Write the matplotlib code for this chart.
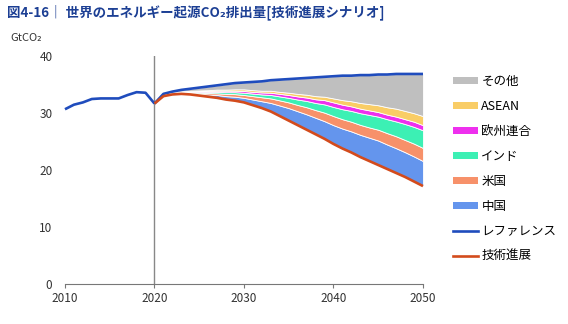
import numpy as np
import matplotlib
matplotlib.use('Agg')
import matplotlib.pyplot as plt
from matplotlib.patches import Patch
from matplotlib.lines import Line2D

plt.rcParams['font.family'] = ['Noto Sans CJK JP', 'DejaVu Sans']

# 実績 (2010-2020)
hist_years = list(range(2010, 2021))
hist = [30.7, 31.5, 31.9, 32.5, 32.6, 32.6, 32.6, 33.2, 33.7, 33.6, 31.7]

# 見通し (2020-2050)
years = list(range(2020, 2051))
reference = [31.7, 33.4, 33.8, 34.1, 34.3, 34.5, 34.7, 34.9, 35.1, 35.3,
             35.4, 35.5, 35.6, 35.8, 35.9, 36.0, 36.1, 36.2, 36.3, 36.4,
             36.5, 36.6, 36.6, 36.7, 36.7, 36.8, 36.8, 36.9, 36.9, 36.9, 36.9]
advanced = [31.7, 33.0, 33.3, 33.4, 33.3, 33.1, 32.9, 32.7, 32.4, 32.2,
            31.9, 31.4, 30.9, 30.3, 29.5, 28.7, 27.9, 27.1, 26.3, 25.5,
            24.6, 23.8, 23.1, 22.3, 21.6, 20.9, 20.2, 19.5, 18.8, 18.0, 17.2]

# 削減分 (地域別)
china = [0, 0.1, 0.1, 0.15, 0.2, 0.3, 0.4, 0.5, 0.6, 0.7,
         0.8, 1.0, 1.2, 1.5, 1.85, 2.2, 2.45, 2.7, 2.9, 3.1,
         3.3, 3.5, 3.7, 3.9, 4.1, 4.3, 4.3, 4.35, 4.35, 4.4, 4.4]
usa = [0, 0.05, 0.1, 0.1, 0.15, 0.2, 0.25, 0.3, 0.4, 0.45,
       0.5, 0.6, 0.7, 0.8, 0.9, 1.0, 1.1, 1.25, 1.35, 1.5,
       1.6, 1.65, 1.7, 1.75, 1.8, 1.9, 2.0, 2.1, 2.15, 2.25, 2.3]
india = [0, 0.05, 0.05, 0.1, 0.1, 0.15, 0.2, 0.25, 0.3, 0.35,
         0.4, 0.45, 0.5, 0.6, 0.7, 0.8, 0.95, 1.1, 1.25, 1.45,
         1.6, 1.75, 1.9, 2.05, 2.2, 2.3, 2.45, 2.6, 2.8, 2.95, 3.1]
eu = [0, 0.05, 0.05, 0.05, 0.1, 0.15, 0.15, 0.2, 0.25, 0.25,
      0.3, 0.3, 0.35, 0.4, 0.45, 0.5, 0.55, 0.6, 0.65, 0.75,
      0.8, 0.8, 0.8, 0.8, 0.8, 0.8, 0.8, 0.85, 0.85, 0.9, 0.9]
asean = [0, 0.05, 0.05, 0.05, 0.1, 0.1, 0.15, 0.2, 0.2, 0.25,
         0.3, 0.3, 0.3, 0.35, 0.35, 0.4, 0.45, 0.5, 0.55, 0.6,
         0.7, 0.8, 0.9, 1.0, 1.1, 1.2, 1.3, 1.4, 1.45, 1.5, 1.6]
others = [0, 0.1, 0.15, 0.25, 0.35, 0.5, 0.65, 0.75, 0.95, 1.1,
          1.2, 1.45, 1.65, 1.85, 2.15, 2.4, 2.7, 2.95, 3.3, 3.5,
          3.9, 4.3, 4.5, 4.9, 5.1, 5.4, 5.75, 6.1, 6.5, 6.9, 7.4]

bands = [china, usa, india, eu, asean, others]
band_labels = ['中国', '米国', 'インド', '欧州連合', 'ASEAN', 'その他']
band_colors = ['#6495ed', '#f7916a', '#3cf0b4', '#ee30ee', '#f9cd66', '#bfbfbf']
xticks = [2010, 2020, 2030, 2040, 2050]
yticks = [0, 10, 20, 30, 40]

c_ref = '#1f4cbd'
c_adv = '#d34b1c'
lw = 1.9

fig = plt.figure(figsize=(5.68, 3.24), dpi=100)
ax = fig.add_axes([0.1144, 0.1235, 0.6303, 0.7027])

# 積み上げ
base = np.array(advanced)
for vals, col in zip(bands, band_colors):
    top = base + np.array(vals)
    ax.fill_between(years, base, top, facecolor=col, edgecolor='white', linewidth=0.6)
    base = top

ax.axvline(2020, color='#888888', lw=1.0, ymin=0, ymax=1)

ax.plot(hist_years, hist, color=c_ref, lw=lw, clip_on=False, solid_capstyle='butt')
ax.plot(years, reference, color=c_ref, lw=lw, clip_on=False, solid_capstyle='butt')
ax.plot(years, advanced, color=c_adv, lw=lw, clip_on=False, solid_capstyle='butt')

ax.set_xlim(2010, 2050)
ax.set_ylim(0, 40)
ax.set_xticks(xticks)
ax.set_yticks(yticks)
ax.tick_params(axis='y', length=0, pad=9, labelsize=8.5, labelcolor='#333333')
ax.tick_params(axis='x', length=3, width=0.8, color='#777777', pad=3, labelsize=8.5, labelcolor='#333333')
for s in ['left', 'right', 'top']:
    ax.spines[s].set_visible(False)
ax.spines['bottom'].set_color('#777777')
ax.spines['bottom'].set_linewidth(0.8)

handles = []
for lab, col in zip(band_labels[::-1], band_colors[::-1]):
    handles.append(Patch(facecolor=col, edgecolor='none', label=lab))
handles.append(Line2D([0], [0], color=c_ref, lw=lw, label='レファレンス'))
handles.append(Line2D([0], [0], color=c_adv, lw=lw, label='技術進展'))
fig.legend(handles=handles, loc='upper left', bbox_to_anchor=(0.797, 0.768),
           frameon=False, fontsize=9, handlelength=2.0, handleheight=0.45,
           handletextpad=0.3, labelspacing=0.96, borderaxespad=0, borderpad=0)

fig.text(0.012, 0.962, '図4-16｜ 世界のエネルギー起源CO₂排出量[技術進展シナリオ]',
         fontsize=9.7, fontweight='bold', color='#1c3f94', va='center', ha='left')
fig.text(0.018, 0.882, 'GtCO₂', fontsize=8, color='#333333', va='center', ha='left')

fig.savefig('out.png', dpi=100)
